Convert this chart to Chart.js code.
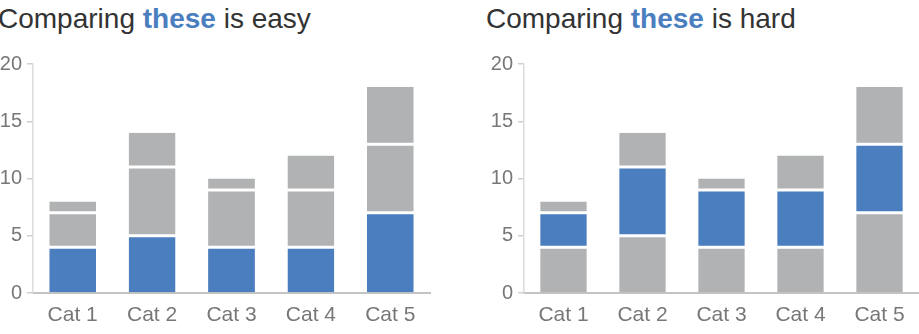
<!DOCTYPE html>
<html lang="en">

<head>
    <meta charset="UTF-8">
    <title>Comparing these</title>
    <script src="https://cdn.jsdelivr.net/npm/chart.js"></script>
    <style>
        body { margin: 0; width: 919px; height: 334px; overflow: hidden; background: #fff; position: relative; font-family: "Liberation Sans", Arial, sans-serif; }
        .title { position: absolute; top: 3px; font-size: 28px; color: #333; white-space: nowrap; }
        .title b { color: #4a7ebf; }
        .box { position: absolute; top: 0; height: 334px; }
    </style>
</head>

<body>
    <div class="title" style="left:-2px">Comparing <b>these</b> is easy</div>
    <div class="title" style="left:486px">Comparing <b>these</b> is hard</div>
    <div class="box" style="left:0;width:460px"><canvas id="easy"></canvas></div>
    <div class="box" style="left:460px;width:459px"><canvas id="hard"></canvas></div>

    <script>
        const categories = ['Cat 1', 'Cat 2', 'Cat 3', 'Cat 4', 'Cat 5'];
        const bottomValues = [4, 5, 4, 4, 7];
        const middleValues = [3, 6, 5, 5, 6];
        const topValues = [1, 3, 1, 3, 5];
        const yTicks = [0, 5, 10, 15, 20];

        const BLUE = '#4a7ebf';
        const GREY = '#b1b2b4';

        function makeChart(id, colors, axisWidth, padRight) {
            const ctx = document.getElementById(id).getContext('2d');
            // white gaps between stacked segments
            const seg = (data, color, top, bottom) => ({
                data: data,
                backgroundColor: color,
                borderColor: '#fff',
                borderWidth: { top: top, bottom: bottom, left: 0, right: 0 },
                borderSkipped: false,
                barPercentage: 0.59,
                categoryPercentage: 1
            });
            return new Chart(ctx, {
                type: 'bar',
                data: {
                    labels: categories,
                    datasets: [
                        seg(bottomValues, colors[0], 1.5, 0),
                        seg(middleValues, colors[1], 1.5, 1.5),
                        seg(topValues, colors[2], 0, 1.5)
                    ]
                },
                options: {
                    responsive: false,
                    animation: false,
                    layout: { padding: { top: 64, right: padRight, left: 0, bottom: 0 } },
                    plugins: { legend: { display: false }, tooltip: { enabled: false } },
                    scales: {
                        x: {
                            stacked: true,
                            grid: { display: false },
                            border: { display: true, color: '#c4c4c4', width: 2 },
                            ticks: { color: '#777', font: { size: 21, family: '"Liberation Sans", Arial, sans-serif' }, padding: 2 },
                            afterFit: s => { s.height = 41; }
                        },
                        y: {
                            stacked: true,
                            min: 0,
                            max: 20,
                            afterBuildTicks: s => { s.ticks = yTicks.map(v => ({ value: v })); },
                            grid: { display: true, drawOnChartArea: false, drawTicks: true, tickLength: 6, color: '#cfcfcf', lineWidth: 1.5 },
                            border: { display: true, color: '#dcdcdc', width: 1.5 },
                            ticks: { color: '#777', padding: 5, font: { size: 20, family: '"Liberation Sans", Arial, sans-serif' } },
                            afterFit: s => { s.width = axisWidth; }
                        }
                    }
                }
            });
        }

        function sizeCanvas(id, w) {
            const c = document.getElementById(id);
            c.width = w; c.height = 334;
            c.style.width = w + 'px'; c.style.height = '334px';
        }

        sizeCanvas('easy', 460);
        sizeCanvas('hard', 459);
        makeChart('easy', [BLUE, GREY, GREY], 33, 30);
        makeChart('hard', [GREY, BLUE, GREY], 64, 0);
    </script>
</body>

</html>
